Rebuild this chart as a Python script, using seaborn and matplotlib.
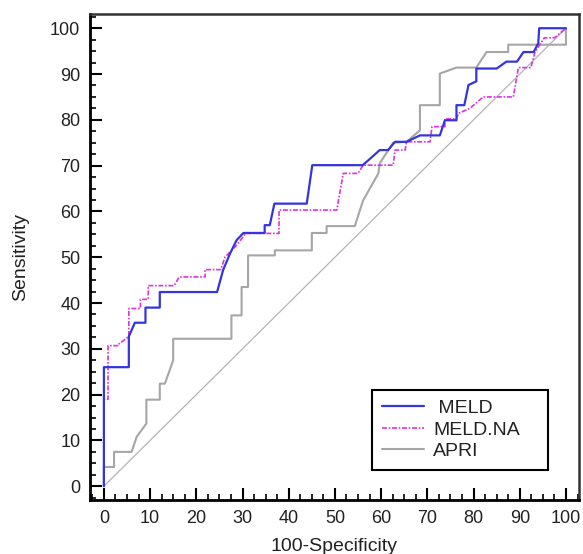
import numpy as np
import pandas as pd
import matplotlib
matplotlib.use('Agg')
import matplotlib.pyplot as plt
from matplotlib.ticker import MultipleLocator
import seaborn as sns

# ROC 곡선 좌표 (100-Specificity, Sensitivity) - 그림에서 읽은 값
meld_x = [0, 0, 5.4, 5.4, 6.7, 9, 9, 12.1, 12.1, 24.5, 25.8, 27.3, 28.7, 30.2, 34.8, 34.8, 35.9,
          36.9, 43.9, 45.1, 56, 57.6, 59.7, 61.5, 63, 65.5, 68.4, 72.7, 73.8, 76.3, 76.3, 78,
          78.9, 80.6, 80.6, 85, 87.1, 89.4, 90.8, 93, 94, 94.2, 100]
meld_y = [0, 26, 26, 32.7, 35.7, 35.7, 39, 39, 42.4, 42.4, 47.2, 50.8, 53.7, 55.3, 55.3, 57, 57,
          61.7, 61.7, 70.1, 70.1, 71.5, 73.4, 73.4, 75.2, 75.2, 76.6, 76.6, 79.9, 79.9, 83.2, 83.2,
          87.6, 88.4, 91.2, 91.2, 92.7, 92.7, 94.8, 94.8, 96.7, 100, 100]

meldna_x = [0, 0, 0.9, 0.9, 3.2, 3.2, 5.4, 5.4, 7.9, 7.9, 9.6, 9.6, 15.2, 16.3, 21.9, 21.9, 25.3,
            26.2, 28.7, 30.7, 37.9, 37.9, 50.4, 51.8, 55, 56.1, 62.6, 63, 65.2, 65.5, 70.6, 71,
            73.8, 73.8, 76.3, 76.7, 79.2, 82.1, 88.6, 89.7, 92.4, 93.3, 95.3, 97.5, 100]
meldna_y = [0, 19, 19, 30.7, 30.7, 31, 32.7, 38.8, 38.8, 40.8, 40.8, 43.8, 43.8, 45.7, 45.7, 47.3,
            47.3, 50, 52.6, 55.2, 55.2, 60.3, 60.3, 68.3, 68.3, 70.1, 70.1, 73.4, 73.4, 75.2, 75.2,
            78.5, 78.5, 80.2, 80.2, 81.4, 82.5, 85, 85, 91.4, 91.4, 94.8, 97.9, 97.9, 100]

apri_x = [0, 0, 2.2, 2.2, 6, 7.1, 9.2, 9.2, 12.1, 12.1, 13.2, 15, 15, 27.6, 27.6, 29.8, 29.8, 31.2,
          31.2, 37, 37, 45, 45, 48.2, 48.2, 54.3, 56.1, 59.4, 59.7, 62.6, 65.5, 68.4, 68.4, 72.7,
          72.7, 76.3, 80.6, 82.8, 87.5, 87.5, 100, 100]
apri_y = [0, 4.2, 4.2, 7.5, 7.5, 10.8, 13.7, 18.9, 18.9, 22.4, 22.4, 27.5, 32.2, 32.2, 37.3, 37.3,
          43.5, 43.5, 50.4, 50.4, 51.5, 51.5, 55.3, 55.3, 56.8, 56.8, 62.4, 68.3, 70.5, 75, 75.2,
          77.7, 83.2, 83.2, 90.1, 91.4, 91.4, 94.8, 94.8, 96.4, 96.4, 100]

ticks = [0, 10, 20, 30, 40, 50, 60, 70, 80, 90, 100]

sns.set_style('white')
plt.rcParams['font.family'] = ['Liberation Sans', 'DejaVu Sans']

fig = plt.figure(figsize=(5.83, 5.54), dpi=100)
ax = fig.add_axes([0.1544, 0.0975, 0.8386, 0.8772])

# 대각선 기준선
sns.lineplot(x=[0, 100], y=[0, 100], color='#b4b4b4', lw=0.9, ax=ax)

curves = [
    (apri_x, apri_y, 'APRI', '#a6a6a6', '-', 1.5),
    (meldna_x, meldna_y, 'MELD.NA', '#dd33dd', (0, (3, 1, 1, 1)), 1.2),
    (meld_x, meld_y, ' MELD', '#3434e0', '-', 1.6),
]
lines = {}
for xs, ys, name, col, ls, lw in curves:
    df = pd.DataFrame({'x': xs, 'y': ys})
    sns.lineplot(data=df, x='x', y='y', sort=False, estimator=None, color=col,
                 linestyle=ls, lw=lw, ax=ax)
    lines[name] = ax.lines[-1]

ax.set_xlim(-3.0, 102.8)
ax.set_ylim(-3.0, 103.1)
ax.set_xticks(ticks)
ax.set_yticks(ticks)
ax.xaxis.set_minor_locator(MultipleLocator(2.5))
ax.yaxis.set_minor_locator(MultipleLocator(2.5))
ax.tick_params(which='major', direction='in', length=8.5, width=1.5, labelsize=13,
               pad=7, colors='black', labelcolor='#222222')
ax.tick_params(which='minor', direction='in', length=4, width=1.2, colors='black')
ax.tick_params(bottom=True, left=True, which='both')

for side in ['left', 'bottom']:
    ax.spines[side].set_linewidth(2.0)
    ax.spines[side].set_color('black')
for side in ['top', 'right']:
    ax.spines[side].set_linewidth(1.8)
    ax.spines[side].set_color('#333333')

ax.set_xlabel('100-Specificity', fontsize=14, color='#222222', labelpad=8)
ax.set_ylabel('Sensitivity', fontsize=14, color='#222222', labelpad=15)

# 범례: MedCalc 스타일로 오른쪽 여백을 넓게
leg = ax.legend([lines[' MELD'], lines['MELD.NA'], lines['APRI']],
                [' MELD', 'MELD.NA', 'APRI'],
                loc='lower left', bbox_to_anchor=(0.5767, 0.0617, 0.36, 0.17),
                mode='expand', borderaxespad=0,
                fontsize=14, frameon=True, fancybox=False, framealpha=1,
                edgecolor='black', handlelength=2.2, labelspacing=0.2,
                borderpad=0.5, handletextpad=0.45)
leg.get_frame().set_linewidth(1.5)
for t in leg.get_texts():
    t.set_color('#222222')

fig.savefig('out.png', dpi=100)
